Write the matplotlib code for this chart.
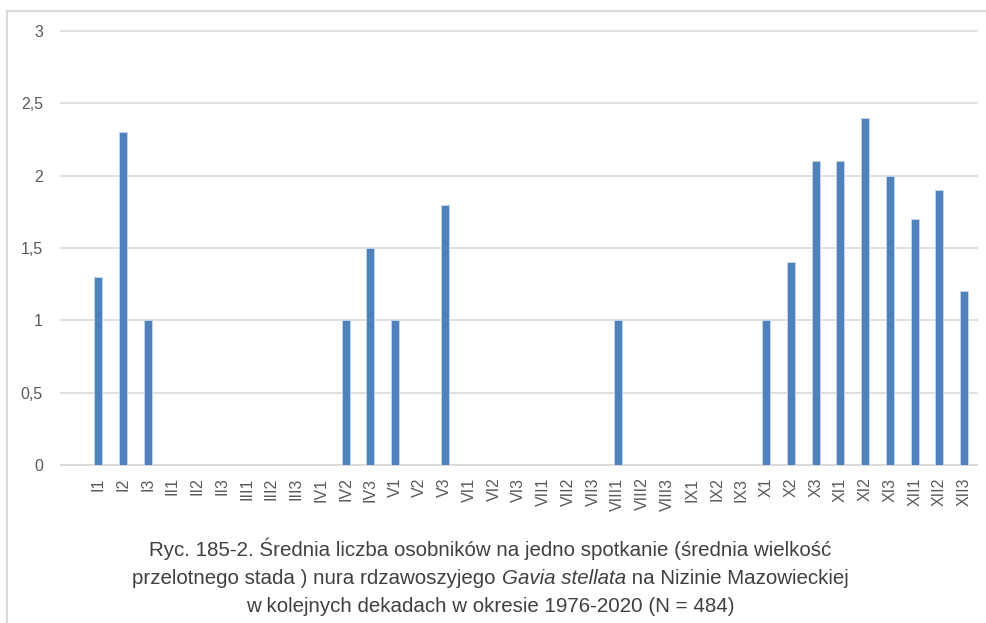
import matplotlib
matplotlib.use("Agg")
import matplotlib.pyplot as plt
from matplotlib.lines import Line2D
from matplotlib.ticker import FuncFormatter
import numpy as np

plt.rcParams['font.family'] = ['Liberation Sans', 'DejaVu Sans']

labels = ["I1", "I2", "I3", "II1", "II2", "II3", "III1", "III2", "III3",
          "IV1", "IV2", "IV3", "V1", "V2", "V3", "VI1", "VI2", "VI3",
          "VII1", "VII2", "VII3", "VIII1", "VIII2", "VIII3", "IX1", "IX2", "IX3",
          "X1", "X2", "X3", "XI1", "XI2", "XI3", "XII1", "XII2", "XII3"]
values = [1.3, 2.3, 1.0, 0, 0, 0, 0, 0, 0,
          0, 1.0, 1.5, 1.0, 0, 1.8, 0, 0, 0,
          0, 0, 0, 1.0, 0, 0, 0, 0, 0,
          1.0, 1.4, 2.1, 2.1, 2.4, 2.0, 1.7, 1.9, 1.2]

caption1 = "Ryc. 185-2. Średnia liczba osobników na jedno spotkanie (średnia wielkość"
caption2 = ["przelotnego stada ) nura rdzawoszyjego ", "Gavia stellata", " na Nizinie Mazowieckiej"]
caption3 = "w kolejnych dekadach w okresie 1976-2020 (N = 484)"

fig = plt.figure(figsize=(9.86, 6.23), dpi=100)
ax = fig.add_axes([0.0619, 0.2536, 0.9285, 0.6966])

x = np.arange(len(labels))
ax.bar(x, values, width=0.32, color='#4F81BD', edgecolor='#C9D6EA', linewidth=0.6, zorder=3)

ax.set_xlim(-1.5, len(labels) - 0.5)
ax.set_ylim(0, 3)
ax.set_yticks(np.arange(0, 3.01, 0.5))
ax.yaxis.set_major_formatter(FuncFormatter(lambda v, p: f"{v:g}".replace('.', ',')))
ax.grid(axis='y', color='#D9D9D9', linewidth=1.2, zorder=0)
for gl in ax.get_ygridlines():
    gl.set_clip_on(False)
ax.set_xticks(x)
ax.set_xticklabels(labels, rotation=90, va='top')
for s in ['top', 'right', 'left']:
    ax.spines[s].set_visible(False)
ax.spines['bottom'].set_color('#D9D9D9')
ax.spines['bottom'].set_linewidth(1.2)
ax.tick_params(axis='y', length=0, pad=13, labelsize=11.5, labelcolor='#595959')
ax.tick_params(axis='x', length=0, pad=9, labelsize=11.5, labelcolor='#595959')

# chart border (top and left edges visible in the crop)
fig.add_artist(Line2D([0.0066, 1.0], [1 - 11 / 623, 1 - 11 / 623], color='#D9D9D9', lw=1.5))
fig.add_artist(Line2D([0.0066, 0.0066], [0, 1 - 11 / 623], color='#D9D9D9', lw=1.5))

cap_size = 14.8
cap_kw = dict(fontsize=cap_size, color='#404040', ha='center', va='center')
fig.text(0.4975, 1 - 549 / 623, caption1, **cap_kw)
fig.text(0.4975, 1 - 606 / 623, caption3, **cap_kw)

# second caption line with italic species name
fig.canvas.draw()
r = fig.canvas.get_renderer()
parts = []
for i, t in enumerate(caption2):
    parts.append(fig.text(0, 1 - 578 / 623, t, fontsize=cap_size, color='#404040',
                          style='italic' if i == 1 else 'normal', ha='left', va='center'))
widths = [p.get_window_extent(r).width for p in parts]
total = sum(widths)
xpos = 0.4975 * fig.bbox.width - total / 2
for p, w in zip(parts, widths):
    p.set_x(xpos / fig.bbox.width)
    xpos += w

fig.savefig("out.png", dpi=100)
